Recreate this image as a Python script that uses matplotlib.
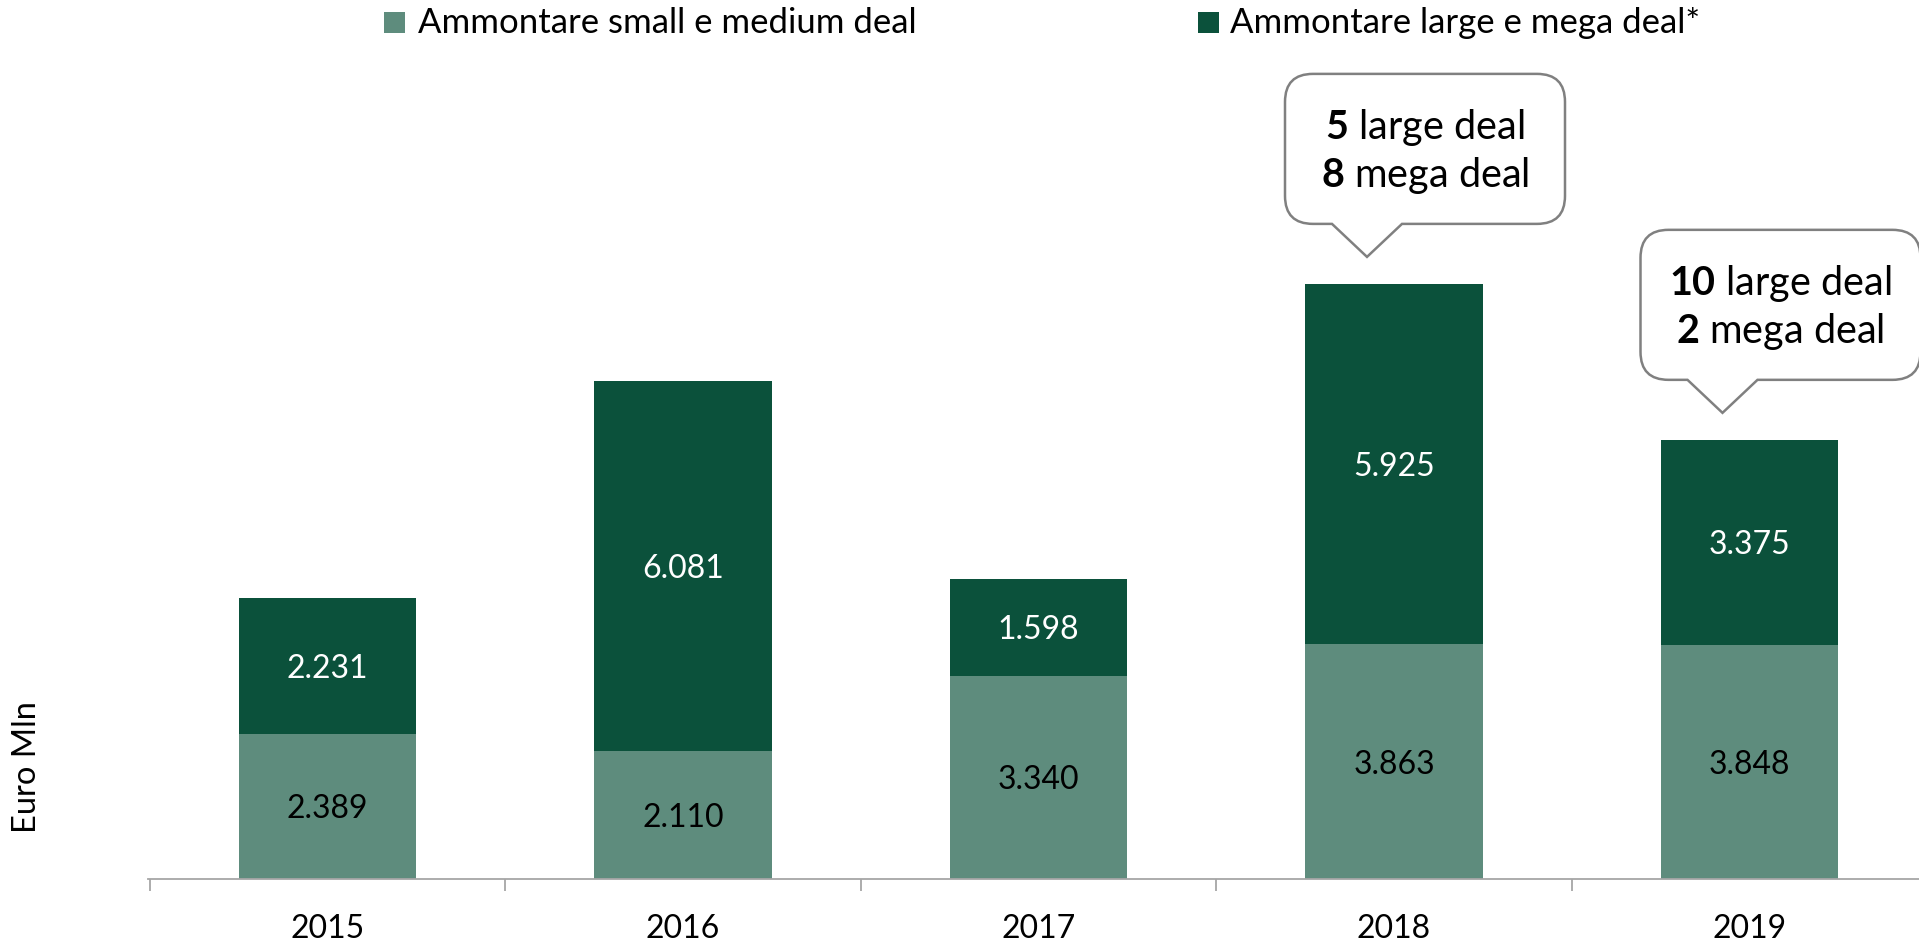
import matplotlib
matplotlib.use("Agg")
import matplotlib.pyplot as plt
from matplotlib.patches import Rectangle, PathPatch
from matplotlib.path import Path
from matplotlib.transforms import IdentityTransform

# ---------------- data ----------------
years = ["2015", "2016", "2017", "2018", "2019"]
small_medium = [2389, 2110, 3340, 3863, 3848]
large_mega = [2231, 6081, 1598, 5925, 3375]
small_labels = ["2.389", "2.110", "3.340", "3.863", "3.848"]
large_labels = ["2.231", "6.081", "1.598", "5.925", "3.375"]
legend_labels = ["Ammontare small e medium deal", "Ammontare large e mega deal*"]
callout_years = ["2018", "2019"]
callout_large = ["5", "10"]
callout_mega = ["8", "2"]
y_label = "Euro Mln"

# ---------------- style ----------------
plt.rcParams['font.family'] = ['Lato', 'DejaVu Sans']
plt.rcParams['mathtext.fontset'] = 'custom'
plt.rcParams['mathtext.rm'] = 'Lato'
plt.rcParams['mathtext.bf'] = 'Lato:bold'

C_LIGHT = "#5E8C7D"
C_DARK = "#0B513B"
C_AXIS = "#A6A6A6"
C_BOX = "#808080"

W, H, DPI = 1919, 943, 100
fig = plt.figure(figsize=(W / DPI, H / DPI), dpi=DPI)

ax_left, ax_bottom_px = 148, 879
ax = fig.add_axes([ax_left / W, (H - ax_bottom_px) / H, (W - ax_left) / W, ax_bottom_px / H])
px_per_unit = 0.0608
cat_px = 355.5
ax.set_ylim(0, ax_bottom_px / px_per_unit)
x0 = -0.5 - 1.75 / cat_px
ax.set_xlim(x0, x0 + (W - ax_left) / cat_px)

x = list(range(len(years)))
b1 = ax.bar(x, small_medium, width=0.5, color=C_LIGHT, linewidth=0)
b2 = ax.bar(x, large_mega, width=0.5, bottom=small_medium, color=C_DARK, linewidth=0)

for i in x:
    ax.text(i, small_medium[i] / 2, small_labels[i], ha="center", va="center_baseline",
            fontsize=23, color="black")
    ax.text(i, small_medium[i] + large_mega[i] / 2, large_labels[i], ha="center",
            va="center_baseline", fontsize=23, color="white")

# axes styling
for s in ["left", "right", "top"]:
    ax.spines[s].set_visible(False)
ax.spines["bottom"].set_color(C_AXIS)
ax.spines["bottom"].set_linewidth(1.3)
ax.set_yticks([])
ax.set_xticks(x)
ax.set_xticklabels(years, fontsize=23)
ax.tick_params(axis="x", which="major", length=0, pad=25.5)
ax.set_xticks([i - 0.5 for i in x], minor=True)
ax.tick_params(axis="x", which="minor", length=8.6, width=1.3, color=C_AXIS, direction="out")

fig.text(27 / W, (H - 767) / H, y_label, rotation=90, ha="center", va="center", fontsize=23.5)

# legend (manual, matches reference layout)
leg_sq = [(384, 12), (1198, 12)]
leg_txt_x = [418, 1230]
for (sx, sy), tx, lab, col in zip(leg_sq, leg_txt_x, legend_labels, [C_LIGHT, C_DARK]):
    fig.patches.append(Rectangle((sx / W, (H - sy - 21) / H), 21 / W, 21 / H,
                                 transform=fig.transFigure, color=col, linewidth=0))
    fig.text(tx / W, (H - 33) / H, lab, ha="left", va="baseline", fontsize=25)

# callouts
fig.canvas.draw()
def callout(i, lg, mg):
    total = small_medium[i] + large_mega[i]
    tx, ty = ax.transData.transform((i, total))
    tx -= 27
    ty += 27
    bw, bh, r, gap, half = 280, 150, 28, 33, 35
    cx = tx + 58
    xl, xr = cx - bw / 2, cx + bw / 2
    yb = ty + gap
    yt = yb + bh
    verts = [(tx, ty), (tx + half, yb), (xr - r, yb), (xr, yb), (xr, yb + r),
             (xr, yt - r), (xr, yt), (xr - r, yt), (xl + r, yt), (xl, yt), (xl, yt - r),
             (xl, yb + r), (xl, yb), (xl + r, yb), (tx - half, yb), (tx, ty)]
    codes = [Path.MOVETO, Path.LINETO, Path.LINETO, Path.CURVE3, Path.CURVE3,
             Path.LINETO, Path.CURVE3, Path.CURVE3, Path.LINETO, Path.CURVE3, Path.CURVE3,
             Path.LINETO, Path.CURVE3, Path.CURVE3, Path.LINETO, Path.CLOSEPOLY]
    patch = PathPatch(Path(verts, codes), facecolor="white", edgecolor=C_BOX,
                      linewidth=1.8, transform=IdentityTransform(), zorder=5)
    fig.patches.append(patch)
    fx = cx / W
    fig.text(fx, (yt - 65) / H, r"$\mathbf{%s}$ large deal" % lg, ha="center",
             va="baseline", fontsize=28.5, zorder=6)
    fig.text(fx, (yt - 113) / H, r"$\mathbf{%s}$ mega deal" % mg, ha="center",
             va="baseline", fontsize=28.5, zorder=6)

for yr, lg, mg in zip(callout_years, callout_large, callout_mega):
    callout(years.index(yr), lg, mg)

fig.savefig("out.png", dpi=DPI)
